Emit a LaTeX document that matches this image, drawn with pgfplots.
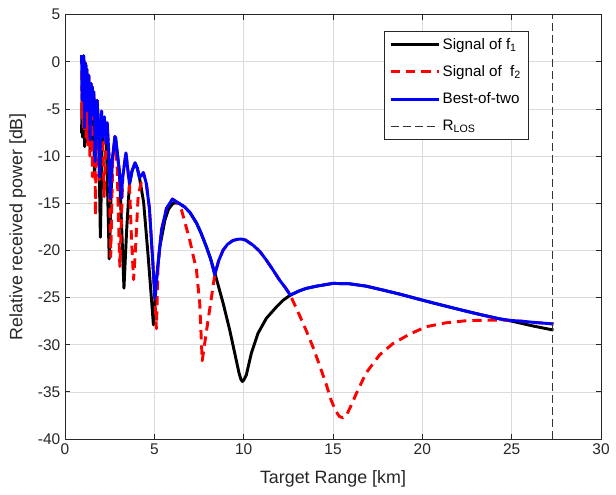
\documentclass[border=0pt]{standalone}
\usepackage{fontspec}
\setmainfont{Liberation Sans}
\usepackage{pgfplots}
\pgfplotsset{compat=1.18}
\definecolor{axgray}{rgb}{0.15,0.15,0.15}

\begin{document}
\begin{tikzpicture}
\begin{axis}[
    scale only axis, width=402pt, height=318.3pt,
    xmin=0, xmax=30, ymin=-40, ymax=5,
    xtick={0,5,10,15,20,25,30}, xticklabels={0,5,10,15,20,25,30},
    ytick={-40,-35,-30,-25,-20,-15,-10,-5,0,5},
    yticklabels={-40,-35,-30,-25,-20,-15,-10,-5,0,5},
    tick label style={font=\fontsize{11.6}{13}\selectfont, text=axgray},
    label style={font=\fontsize{13.4}{15}\selectfont, text=axgray},
    xlabel={Target Range [km]}, ylabel={Relative received power [dB]},
    xlabel style={at={(axis description cs:0.5,-0.095)}, anchor=center},
    ylabel style={at={(axis description cs:-0.088,0.5)}, anchor=center},
    grid=major, major grid style={gray!28, line width=0.5pt},
    axis line style={axgray, line width=0.6pt},
    tick style={axgray, line width=0.6pt},
    tick align=inside, major tick length=3.75pt,
    every axis plot/.append style={line join=round},
    legend style={at={(0.8644,0.9614)}, anchor=north east, draw=axgray, line width=0.5pt,
        fill=white, font=\fontsize{11.4}{13}\selectfont, row sep=6.6pt, inner sep=3.2pt},
    legend cell align=left,
    legend image code/.code={\draw[#1] (0pt,0pt) -- (36pt,0pt);},
]
% f1
\addplot[black, line width=2.2pt] coordinates {
(0.93,-7.6)(0.955,-3.5)(0.975,-4.5)(0.99,-8.0)(1.0154,-2.15)(1.0421,0.64)(1.0703,-2.61)(1.1,-9.0)
(1.1314,-3.09)(1.1647,-0.33)(1.2,-3.6)(1.2375,-8.5)(1.2774,-4.14)(1.32,-1.42)(1.3655,-4.72)(1.4143,-9.5)
(1.4667,-5.34)(1.5231,-2.66)(1.584,-6.01)(1.65,-12.0)(1.6851,-11.0)(1.7217,-6.74)(1.8,-4.11)(1.8857,-7.53)
(1.9317,-13.07)(1.98,-18.6)(2.0308,-13.5)(2.0842,-8.4)(2.2,-5.86)(2.3294,-9.36)(2.4,-14.95)(2.475,-20.9)
(2.5548,-15.49)(2.64,-10.45)(2.8286,-8.04)(3.0462,-11.69)(3.168,-17.36)(3.3,-24.0)(3.4435,-18.09)(3.6,-13.14)
(3.75,-11.6)(3.92,-10.75)(4.05,-11.3)(4.17,-12.3)(4.4,-14.89)(4.6588,-20.71)(4.95,-27.9)(5.12,-23.1)
(5.31,-19.6)(5.59,-16.8)(5.8,-15.6)(6.05,-15.0)(6.33,-14.95)(6.7,-15.4)(7.0,-16.0)(7.36,-17.1)
(7.6,-18.1)(7.91,-19.6)(8.15,-20.9)(8.4,-22.5)(8.85,-25.6)(9.22,-28.45)(9.5,-30.9)(9.74,-33.0)
(9.85,-33.7)(9.93,-33.9)(10.02,-33.7)(10.15,-33.2)(10.43,-30.9)(10.8,-28.8)(11.27,-27.2)(11.83,-26.0)
(12.2,-25.3)(12.61,-24.74)(13.13,-24.28)(13.5,-24.03)(14.06,-23.8)(14.99,-23.5)(15.92,-23.54)(16.85,-23.79)
(17.78,-24.2)(18.72,-24.63)(19.65,-25.1)(20.58,-25.56)(21.51,-26.0)(22.44,-26.44)(23.37,-26.86)(24.3,-27.25)
(25.05,-27.52)(26.16,-28.0)(27.34,-28.45)};
\addlegendentry{Signal of f\textsubscript{1}}
% f2
\addplot[red, line width=2.2pt, dash pattern=on 7pt off 4.5pt] coordinates {
(0.93,0.7)(0.9446,-1.52)(0.959,-6.0)(0.9746,-1.79)(0.9903,0.4)(1.0066,-2.07)(1.0233,-7.0)(1.0407,-2.36)
(1.0586,0.2)(1.0772,-2.66)(1.0964,-7.5)(1.1164,-2.97)(1.137,-0.12)(1.1585,-3.29)(1.1808,-8.0)(1.2039,-3.63)
(1.228,-0.79)(1.2531,-3.98)(1.2792,-9.0)(1.3064,-4.34)(1.3348,-1.52)(1.3644,-4.72)(1.3955,-10.0)(1.4279,-5.11)
(1.4619,-2.31)(1.4976,-5.53)(1.535,-12.2)(1.5744,-5.96)(1.6158,-3.17)(1.6595,-6.42)(1.7056,-16.3)(1.7543,-6.9)
(1.8059,-4.14)(1.8606,-7.41)(1.9188,-12.5)(1.9806,-7.95)(2.0467,-5.23)(2.1172,-8.53)(2.1929,-14.3)(2.2741,-9.15)
(2.3615,-6.47)(2.456,-9.82)(2.5583,-20.7)(2.6128,-15.69)(2.6696,-10.55)(2.7909,-7.92)(2.9238,-11.34)(2.9951,-16.88)
(3.07,-21.7)(3.1487,-17.31)(3.2316,-12.21)(3.4111,-9.66)(3.6118,-13.17)(3.7212,-18.76)(3.8375,-23.1)(3.9613,-19.3)
(4.0933,-14.26)(4.3857,-11.75)(4.55,-12.9)(4.7231,-15.5)(4.912,-21.17)(5.1167,-28.3)(5.21,-21.4)(5.4,-17.85)
(5.68,-15.55)(6.01,-14.56)(6.24,-14.85)(6.52,-15.7)(6.98,-18.9)(7.36,-22.1)(7.54,-25.6)(7.68,-31.7)
(7.9,-28.8)(8.15,-25.6)(8.38,-22.6)(8.6,-21.1)(8.85,-19.97)(9.1,-19.35)(9.4,-18.95)(9.65,-18.83)
(9.87,-18.8)(10.1,-18.9)(10.52,-19.44)(10.9,-20.1)(11.27,-21.03)(11.65,-22.1)(12.01,-23.15)(12.35,-24.0)
(12.61,-24.74)(13.13,-26.9)(13.5,-28.5)(13.87,-30.2)(14.25,-32.2)(14.62,-34.2)(14.9,-35.9)(15.15,-37.0)
(15.35,-37.6)(15.55,-37.75)(15.75,-37.5)(16.0,-36.5)(16.3,-35.2)(16.85,-33.0)(17.6,-31.1)(18.34,-29.9)
(19.27,-28.9)(20.2,-28.1)(21.32,-27.68)(22.44,-27.46)(23.56,-27.4)(24.68,-27.4)(25.5,-27.5)(26.16,-27.62)
(27.34,-27.8)};
\addlegendentry{Signal of\ \ f\textsubscript{2}}
% best of two
\addplot[blue, line width=2.2pt] coordinates {
(0.93,0.7)(0.9446,-1.52)(0.9523,-3.92)(0.955,-3.5)(0.9662,-4.06)(0.9746,-1.79)(0.9903,0.4)(1.0066,-2.07)
(1.011,-3.3)(1.0154,-2.15)(1.0421,0.64)(1.05,-0.3)(1.0586,0.2)(1.0772,-2.66)(1.098,-7.0)(1.1164,-2.97)
(1.137,-0.12)(1.15,-1.3)(1.1647,-0.33)(1.19,-2.67)(1.202,-3.6)(1.228,-0.79)(1.2531,-3.98)(1.265,-5.2)
(1.2774,-4.14)(1.32,-1.42)(1.327,-1.7)(1.3348,-1.52)(1.3644,-4.72)(1.4,-8.3)(1.4279,-5.11)(1.4619,-2.31)
(1.49,-3.8)(1.5231,-2.66)(1.578,-5.7)(1.6158,-3.17)(1.6595,-6.42)(1.68,-10.6)(1.7217,-6.74)(1.8,-4.11)
(1.8857,-7.53)(1.925,-12.2)(1.9806,-7.95)(2.0467,-5.23)(2.1,-8.0)(2.2,-5.86)(2.3,-8.6)(2.3615,-6.47)
(2.456,-9.82)(2.53,-14.5)(2.64,-10.45)(2.6696,-10.07)(2.7909,-7.92)(2.8286,-8.04)(3.0462,-11.69)(3.15,-14.5)
(3.2316,-12.21)(3.4111,-9.66)(3.605,-12.9)(3.75,-11.6)(3.92,-10.7)(4.05,-11.3)(4.17,-12.3)(4.3857,-11.75)
(4.55,-12.9)(4.7231,-15.5)(4.912,-21.17)(5.03,-25.1)(5.21,-21.4)(5.4,-17.85)(5.68,-15.55)(6.01,-14.56)
(6.24,-14.85)(6.33,-14.95)(6.7,-15.4)(7.0,-16.0)(7.36,-17.1)(7.6,-18.1)(7.91,-19.6)(8.15,-20.9)
(8.38,-22.6)(8.6,-21.1)(8.85,-19.97)(9.1,-19.35)(9.4,-18.95)(9.65,-18.83)(9.87,-18.8)(10.1,-18.9)
(10.52,-19.44)(10.9,-20.1)(11.27,-21.03)(11.65,-22.1)(12.01,-23.15)(12.35,-24.0)(12.61,-24.74)(13.13,-24.28)
(13.5,-24.03)(14.06,-23.8)(14.99,-23.5)(15.92,-23.54)(16.85,-23.79)(17.78,-24.2)(18.72,-24.63)(19.65,-25.1)
(20.58,-25.56)(21.51,-26.0)(22.44,-26.44)(23.37,-26.86)(24.3,-27.25)(24.9,-27.42)(25.5,-27.5)(26.16,-27.62)
(27.34,-27.8)};
\addlegendentry{Best-of-two}
% line-of-sight range
\addplot[black!80, line width=0.6pt, dash pattern=on 6pt off 3pt] coordinates {(27.3,-40)(27.3,5)};
\addlegendentry{R\textsubscript{LOS}}
\end{axis}
\pgfresetboundingbox
\path[use as bounding box] (-48.75pt,-41.25pt) rectangle (413.25pt,329.25pt);
\end{tikzpicture}
\end{document}
